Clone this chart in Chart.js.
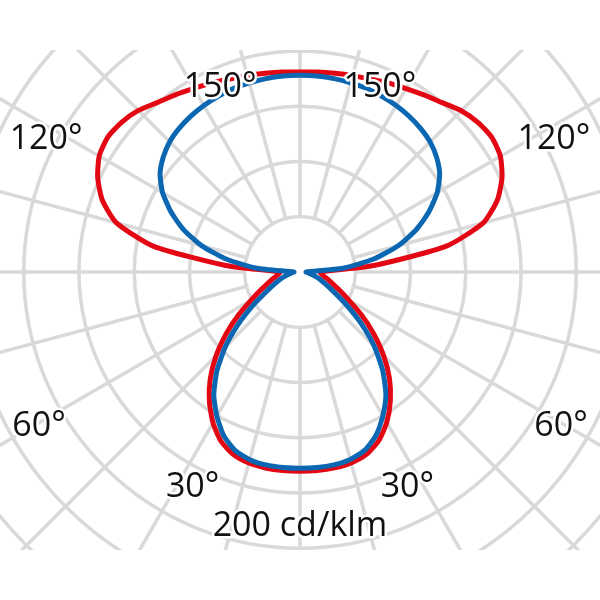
<!DOCTYPE html>
<html>
<head>
<meta charset="utf-8">
<script src="https://cdn.jsdelivr.net/npm/chart.js@4/dist/chart.umd.min.js"></script>
<style>
  body { margin: 0; background: #fff; }
  #frame { position: absolute; left: 0; top: 50px; width: 600px; height: 500px; overflow: hidden; }
  #ldc { position: absolute; left: -142px; top: -220px; }
</style>
</head>
<body>
<div id="frame"><canvas id="ldc" width="884" height="884"></canvas></div>
<script>
// luminous intensity in cd/klm, gamma 0..180 in 5 deg steps (0 = straight down)
var gammaStep = 5
var blueC0 = [177.7, 177.7, 177.2, 175.6, 171.5, 163, 150, 135.5, 116.5, 95, 72, 50.5, 34.6, 25.3, 19, 13.6, 9.9, 7.2, 5.4,
              38.9, 67.7, 92, 111.9, 128.6, 143.3, 154.3, 161.4, 166.5, 169.7, 172.1, 174, 175.4, 176.7, 177.2, 177.7, 178.1, 178.1]
var blueC180 = [177.7, 177.6, 177.3, 175.8, 171.8, 163.4, 150.5, 136, 117, 95.4, 72.3, 50.8, 34.8, 25.4, 19, 13.6, 9.9, 7.2, 5.4,
                39.2, 68, 92.3, 112.2, 128.9, 143.6, 154.6, 161.6, 166.7, 169.9, 172.2, 174, 175.4, 176.6, 177.2, 177.7, 178.1, 178.1]
var redC0 = [180.4, 180.4, 180, 178.8, 175.6, 168.5, 157, 142.5, 126, 107, 87, 68, 51.2, 40, 31.6, 26.2, 21.7, 19.4, 18.1,
             67, 134.5, 171.7, 190, 201.7, 209.4, 212.1, 210.4, 206.4, 200.1, 195.7, 191.7, 188.8, 185.8, 184, 182.6, 181.7, 181]
var redC180 = [180.4, 180.4, 180.1, 179, 175.9, 169, 157.5, 143, 126.4, 107.4, 87.3, 68.2, 51.3, 40, 31.6, 26.2, 21.7, 19.4, 18.1,
               67.5, 135, 172, 190.4, 202, 209.8, 212.5, 210.8, 206.8, 200.4, 196, 191.9, 188.9, 185.9, 184, 182.6, 181.7, 181]

var angleLabels = ['30°', '60°', '120°', '150°']
var angleLabelGamma = [26.7, 59.7, 117.9, 156.8]
var angleLabelDist = [216.3, 273.6, 260, 183.6]
var unitLabel = '200 cd/klm'
var unitLabelDist = 229

// C180 half runs down the left side, C0 half comes back up the right
function around(c180, c0) {
    var out = c180.slice()
    for (var i = c0.length - 2; i > 0; i--) out.push(c0[i])
    return out
}

var labels = []
for (var i = 0; i < 360 / gammaStep; i++) labels.push(i * gammaStep)

var hub = {
    id: 'hub',
    beforeDatasetsDraw: function (chart) {
        var r = chart.scales.r
        var ctx = chart.ctx
        ctx.save()
        ctx.fillStyle = '#fff'
        ctx.beginPath()
        ctx.arc(r.xCenter, r.yCenter, r.getDistanceFromCenterForValue(50) - 1.8, 0, Math.PI * 2)
        ctx.fill()
        ctx.restore()
    }
}

var texts = {
    id: 'texts',
    afterDatasetsDraw: function (chart) {
        var r = chart.scales.r
        var ctx = chart.ctx
        ctx.save()
        ctx.font = '34px "Open Sans"'
        ctx.textAlign = 'center'
        ctx.textBaseline = 'middle'
        ctx.lineJoin = 'round'
        function put(txt, gamma, v) {
            var a = (r.options.startAngle + gamma) * Math.PI / 180 - Math.PI / 2
            var d = r.getDistanceFromCenterForValue(v)
            var x = r.xCenter + Math.cos(a) * d
            var y = r.yCenter + Math.sin(a) * d + 1.5
            ctx.strokeStyle = '#fff'
            ctx.lineWidth = 5
            ctx.strokeText(txt, x, y)
            ctx.fillStyle = '#111'
            ctx.fillText(txt, x, y)
        }
        angleLabels.forEach(function (t, k) {
            put(t, angleLabelGamma[k], angleLabelDist[k])
            put(t, 360 - angleLabelGamma[k], angleLabelDist[k])
        })
        put(unitLabel, 0, unitLabelDist)
        ctx.restore()
    }
}

var gridGrey = '#d9d9d9'

new Chart(document.getElementById('ldc'), {
    type: 'radar',
    data: {
        labels: labels,
        datasets: [
            { label: 'C90/C270', data: around(blueC180, blueC0), borderColor: '#0b67b2' },
            { label: 'C0/C180', data: around(redC180, redC0), borderColor: '#e30613' }
        ]
    },
    options: {
        responsive: false,
        animation: false,
        devicePixelRatio: 1,
        layout: { padding: 0 },
        elements: {
            point: { radius: 0, hoverRadius: 0 },
            line: { borderWidth: 5, tension: 0.2, fill: false, borderJoinStyle: 'round' }
        },
        plugins: { legend: { display: false }, tooltip: { enabled: false } },
        scales: {
            r: {
                min: 0,
                max: 400,
                startAngle: 180,
                ticks: { display: false, stepSize: 50 },
                pointLabels: { display: false },
                grid: { circular: true, color: gridGrey, lineWidth: 3.5 },
                angleLines: {
                    lineWidth: 3.5,
                    color: function (c) { return c.index % 3 === 0 ? gridGrey : 'rgba(0,0,0,0)' }
                }
            }
        }
    },
    plugins: [hub, texts]
})
</script>
</body>
</html>
